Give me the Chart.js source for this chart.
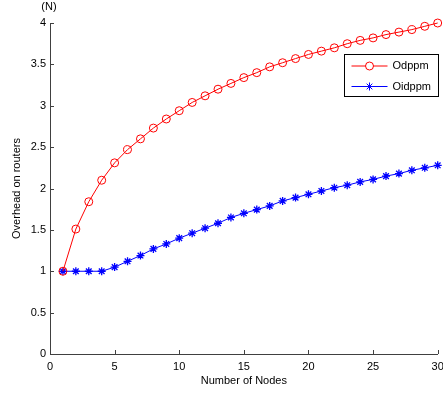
<!DOCTYPE html>
<html>
<head>
<meta charset="UTF-8">
<title>Overhead on routers</title>
<script src="https://cdn.jsdelivr.net/npm/chart.js@4.4.1/dist/chart.umd.min.js"></script>
<style>
  body { margin: 0; background: #fff; }
  canvas { display: block; }
</style>
</head>
<body>
<canvas id="chart" width="443" height="394"></canvas>
<script>
// data
const nodes = [];
for (let n = 1; n <= 30; n++) nodes.push(n);
const odppm = [1.00, 1.51, 1.84, 2.10, 2.31, 2.47, 2.60, 2.73, 2.84, 2.94,
               3.04, 3.12, 3.20, 3.27, 3.34, 3.40, 3.47, 3.52, 3.57, 3.62,
               3.66, 3.70, 3.75, 3.79, 3.82, 3.86, 3.89, 3.92, 3.96, 4.00];
const oidppm = [1.00, 1.00, 1.00, 1.00, 1.05, 1.12, 1.19, 1.27, 1.33, 1.40,
                1.46, 1.52, 1.58, 1.65, 1.70, 1.745, 1.79, 1.85, 1.89, 1.93,
                1.97, 2.01, 2.04, 2.08, 2.11, 2.15, 2.18, 2.22, 2.25, 2.28];
const seriesNames = ['Odppm', 'Oidppm'];

const FONT = 'Liberation Sans, Arial, sans-serif';
const AXIS = '#404040';

function pts(ys) {
    return nodes.map((x, i) => ({ x: x, y: ys[i] }));
}

// inward ticks, (N) label and the boxed legend
const extras = {
    id: 'extras',
    afterDraw(chart) {
        const ctx = chart.ctx;
        const xs = chart.scales.x, ys = chart.scales.y;
        const area = chart.chartArea;
        ctx.save();
        ctx.strokeStyle = AXIS;
        ctx.lineWidth = 1;
        ctx.beginPath();
        xs.ticks.forEach(t => {
            const px = Math.round(xs.getPixelForValue(t.value)) + 0.5;
            ctx.moveTo(px, area.bottom);
            ctx.lineTo(px, area.bottom - 4);
        });
        ys.ticks.forEach(t => {
            const py = Math.round(ys.getPixelForValue(t.value)) + 0.5;
            ctx.moveTo(area.left, py);
            ctx.lineTo(area.left + 4, py);
        });
        ctx.stroke();

        ctx.fillStyle = '#000';
        ctx.font = '11px ' + FONT;
        ctx.textAlign = 'center';
        ctx.textBaseline = 'middle';
        ctx.fillText('(N)', area.left - 1, 7);

        // legend
        const bx = 344.5, by = 54.5, bw = 94, bh = 42;
        ctx.fillStyle = '#fff';
        ctx.fillRect(bx, by, bw, bh);
        ctx.strokeStyle = '#000';
        ctx.strokeRect(bx, by, bw, bh);
        chart.data.datasets.forEach((ds, i) => {
            const cy = by + 11.5 + i * 20.5;
            ctx.strokeStyle = ds.borderColor;
            ctx.lineWidth = 1;
            ctx.beginPath();
            ctx.moveTo(bx + 7, cy);
            ctx.lineTo(bx + 43, cy);
            ctx.stroke();
            Chart.helpers.drawPoint(ctx, {
                pointStyle: ds.pointStyle,
                radius: ds.pointRadius,
                borderWidth: 1
            }, bx + 25, cy);
            ctx.fillStyle = '#000';
            ctx.textAlign = 'left';
            ctx.fillText(ds.label, bx + 48, cy);
        });
        ctx.restore();
    }
};

new Chart(document.getElementById('chart'), {
    type: 'line',
    data: {
        datasets: [{
            label: seriesNames[0],
            data: pts(odppm),
            borderColor: '#ff0000',
            backgroundColor: 'rgba(0,0,0,0)',
            borderWidth: 1,
            pointStyle: 'circle',
            pointRadius: 4,
            pointBorderWidth: 1,
            pointBorderColor: '#ff0000',
            pointBackgroundColor: 'rgba(0,0,0,0)',
            tension: 0,
            clip: false
        }, {
            label: seriesNames[1],
            data: pts(oidppm),
            borderColor: '#0000ff',
            backgroundColor: 'rgba(0,0,0,0)',
            borderWidth: 1,
            pointStyle: 'star',
            pointRadius: 4,
            pointBorderWidth: 1.3,
            pointBorderColor: '#0000ff',
            pointBackgroundColor: '#0000ff',
            tension: 0,
            clip: false
        }]
    },
    options: {
        responsive: false,
        animation: false,
        layout: { padding: { top: 23, right: 3, left: 0, bottom: 0 } },
        plugins: {
            legend: { display: false },
            tooltip: { enabled: false }
        },
        scales: {
            x: {
                type: 'linear',
                min: 0, max: 30,
                ticks: { stepSize: 5, color: '#000', padding: 6, font: { family: FONT, size: 11 }, maxRotation: 0 },
                grid: { display: false, drawTicks: false },
                border: { display: true, color: AXIS, width: 1 },
                title: { display: true, text: 'Number of Nodes', color: '#000',
                         font: { family: FONT, size: 11 }, padding: { top: 0, bottom: 6 } },
                afterFit(s) { s.height = 40; s.paddingLeft = 0; s.paddingRight = 0; }
            },
            y: {
                min: 0, max: 4,
                ticks: { stepSize: 0.5, color: '#000', padding: 4, font: { family: FONT, size: 11 },
                         callback: v => String(v) },
                grid: { display: false, drawTicks: false },
                border: { display: true, color: AXIS, width: 1 },
                title: { display: true, text: 'Overhead on routers', color: '#000',
                         font: { family: FONT, size: 11 }, padding: { top: 10, bottom: 0 } },
                afterFit(s) { s.width = 50; s.paddingTop = 0; s.paddingBottom = 0; }
            }
        }
    },
    plugins: [extras]
});
</script>
</body>
</html>
